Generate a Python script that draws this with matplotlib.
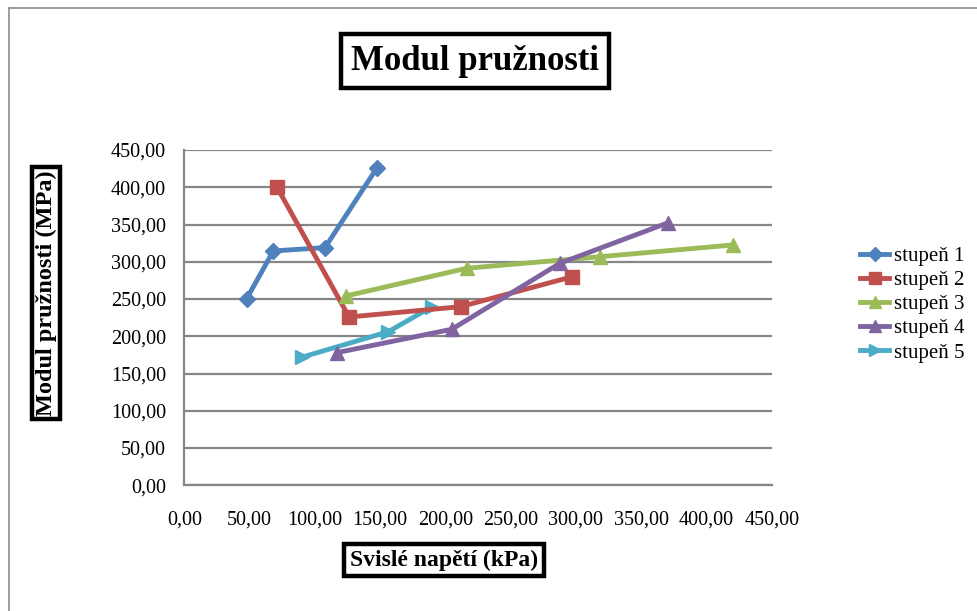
import matplotlib
matplotlib.use('Agg')
import matplotlib.pyplot as plt
from matplotlib.lines import Line2D

# data
napeti_1 = [47.8, 68.2, 107.8, 147.4]
modul_1 = [250.5, 314.5, 319.0, 425.5]
napeti_2 = [70.8, 126.2, 211.6, 297.3]
modul_2 = [400.8, 225.9, 239.7, 280.0]
napeti_3 = [123.9, 216.4, 318.5, 420.6]
modul_3 = [254.1, 291.3, 306.8, 322.6]
napeti_4 = [116.8, 204.9, 287.8, 370.8]
modul_4 = [178.0, 209.4, 298.0, 352.5]
napeti_5 = [89.9, 156.3, 189.4]
modul_5 = [171.8, 206.2, 239.3]

labels = ['stupeň 1', 'stupeň 2', 'stupeň 3', 'stupeň 4', 'stupeň 5']
ticks = [0, 50, 100, 150, 200, 250, 300, 350, 400, 450]

colors = ['#4F81BD', '#C0504D', '#9BBB59', '#8064A2', '#4BACC6']
markers = ['D', 's', '^', '^', '>']
msizes = [8, 10, 10, 10, 10]

SERIF = ['Liberation Serif', 'DejaVu Serif']
plt.rcParams['font.family'] = SERIF

fig = plt.figure(figsize=(9.78, 6.11), dpi=100)
ax = fig.add_axes([184.3 / 978, 1 - 485.3 / 611, 587.4 / 978, 335.3 / 611])

series = [(napeti_1, modul_1), (napeti_2, modul_2), (napeti_3, modul_3),
          (napeti_4, modul_4), (napeti_5, modul_5)]
order = [1, 2, 3, 4, 0]
for i, (x, y) in enumerate(series):
    ax.plot(x, y, color=colors[i], marker=markers[i], markersize=msizes[i],
            linewidth=3.5, label=labels[i], zorder=3 + order[i])

ax.set_xlim(0, 450)
ax.set_ylim(0, 450)
ax.set_xticks(ticks)
ax.set_yticks(ticks)
ax.set_xticklabels([f'{t:.2f}'.replace('.', ',') for t in ticks])
ax.set_yticklabels([f'{t:.2f}'.replace('.', ',') for t in ticks])
ax.tick_params(length=0, labelsize=14.5, colors='black')
ax.tick_params(axis='y', pad=13)
ax.tick_params(axis='x', pad=18)
ax.grid(axis='y', color='#868686', linewidth=1.6)
ax.set_axisbelow(True)
for s in ['top', 'right']:
    ax.spines[s].set_visible(False)
for s in ['left', 'bottom']:
    ax.spines[s].set_color('#868686')
    ax.spines[s].set_linewidth(1.6)

# legend
handles = [Line2D([], [], color=colors[i], marker=markers[i], markersize=msizes[i] - 1,
                  linewidth=3.5) for i in range(5)]
fig.legend(handles, labels, loc='upper left', bbox_to_anchor=(852 / 978, 1 - 238 / 611),
           frameon=False, fontsize=15, handlelength=1.4, handletextpad=0.2,
           labelspacing=0.22, borderaxespad=0)

# boxed titles
box = dict(boxstyle='square,pad=0.3', fc='white', ec='black', lw=3.2)
fig.text(475 / 978, 1 - 61 / 611, 'Modul pružnosti', ha='center', va='center',
         fontsize=25, fontweight='bold', bbox=box)
fig.text(444 / 978, 1 - 560 / 611, 'Svislé napětí (kPa)', ha='center', va='center',
         fontsize=17, fontweight='bold', bbox=dict(box, boxstyle='square,pad=0.25'))
fig.text(46 / 978, 1 - 293 / 611, 'Modul pružnosti (MPa)', ha='center', va='center',
         rotation=90, fontsize=17.5, fontweight='bold',
         bbox=dict(box, boxstyle='square,pad=0.12'))

# chart area border (cropped on right and bottom)
fig.add_artist(Line2D([9 / 978, 9 / 978], [0, 1 - 8 / 611], color='#8c8c8c', lw=1.2))
fig.add_artist(Line2D([9 / 978, 1], [1 - 8 / 611, 1 - 8 / 611], color='#8c8c8c', lw=1.2))

fig.savefig('out.png', dpi=100, facecolor='white')
